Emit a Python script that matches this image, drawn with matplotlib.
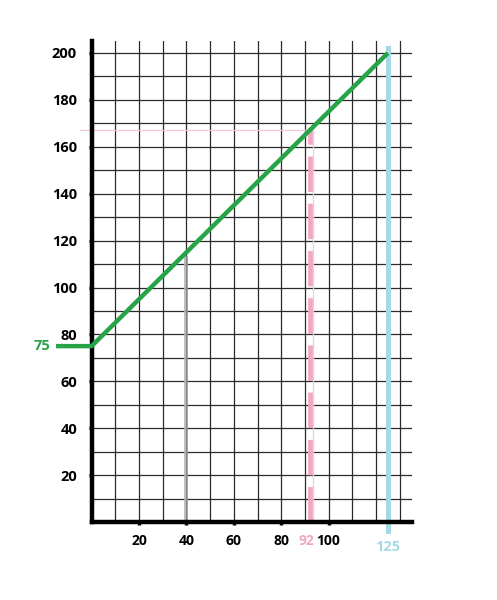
import matplotlib.pyplot as plt
import numpy as np

# values
green_x = [-15, 0, 125]
green_y = [75, 75, 200]
start_value = 75
mark_x = 40
mark_y = 115
pink_x = 92
pink_y = 167
blue_x = 125
x_ticks = [20, 40, 60, 80, 100]
y_ticks = [20, 40, 60, 80, 100, 120, 140, 160, 180, 200]

GREEN = '#26a447'
PINK = '#f2a7c3'
BLUE = '#a6d9e6'

fig = plt.figure(figsize=(4.97, 6), dpi=100)
ax = fig.add_axes([91.6 / 497, 78 / 600, 135 * 2.37 / 497, 205 * 2.345 / 600])
ax.set_xlim(0, 135)
ax.set_ylim(0, 205)

for s in ['top', 'right']:
    ax.spines[s].set_visible(False)
for s in ['left', 'bottom']:
    ax.spines[s].set_linewidth(3.2)
    ax.spines[s].set_zorder(5)

ax.set_xticks(x_ticks)
ax.set_yticks(y_ticks)
ax.set_xticks(np.arange(10, 135, 10), minor=True)
ax.set_yticks(np.arange(10, 205, 10), minor=True)
ax.grid(True, which='both', color='#2a2a2a', linewidth=0.9)
ax.tick_params(which='minor', length=0)
ax.tick_params(which='major', length=2.5, width=2.5, direction='out')
font = dict(family='Open Sans', weight='bold', size=10.5)
xfont = dict(family='Open Sans', weight='bold', size=10)
ax.set_xticklabels([str(v) for v in x_ticks], fontdict=xfont)
ax.set_yticklabels([str(v) for v in y_ticks], fontdict=font)
ax.tick_params(axis='x', pad=6)
ax.tick_params(axis='y', pad=8)
# "100" sits a little right of its tick in the reference
for lbl in ax.get_xticklabels():
    if lbl.get_text() == '100':
        lbl.set_horizontalalignment('left')
        lbl.set_x(100)
ax.get_xticklabels()[-1].set_ha('center')

# gray helper line at 40
ax.plot([mark_x - 0.4, mark_x - 0.4], [0, mark_y - 2], color='#b5b5b5', lw=1.2, zorder=3)
ax.plot([mark_x + 0.4, mark_x + 0.4], [0, mark_y - 2], color='#9a9a9a', lw=1.2, zorder=3)

# pink guides at 92
ax.plot([-5, pink_x], [pink_y, pink_y], color='#f3c9d6', lw=0.9, zorder=3, clip_on=False)
ax.plot([pink_x + 1.3, pink_x + 1.3], [0, pink_y], color='#f3c9d6', lw=0.9, zorder=3)
ax.plot([pink_x, pink_x], [0, pink_y], color=PINK, lw=3.4, zorder=4,
        dashes=(7.5, 2.5))

# blue line at 125
ax.plot([blue_x, blue_x], [-4, 202], color=BLUE, lw=3.6, zorder=4, clip_on=False)

# green line
ax.plot(green_x, green_y, color=GREEN, lw=3.2, zorder=6, clip_on=False,
        solid_capstyle='butt')

ax.text(-21, start_value, str(start_value), color=GREEN, ha='center', va='center',
        family='Open Sans', weight='bold', size=10.5)
ax.text(pink_x - 1.2, -8, str(pink_x), color=PINK, ha='center', va='center',
        family='Open Sans', weight='bold', size=10)
ax.text(blue_x, -10.5, str(blue_x), color=BLUE, ha='center', va='center',
        family='Open Sans', weight='bold', size=10.5)

fig.savefig('out.png', dpi=100)
